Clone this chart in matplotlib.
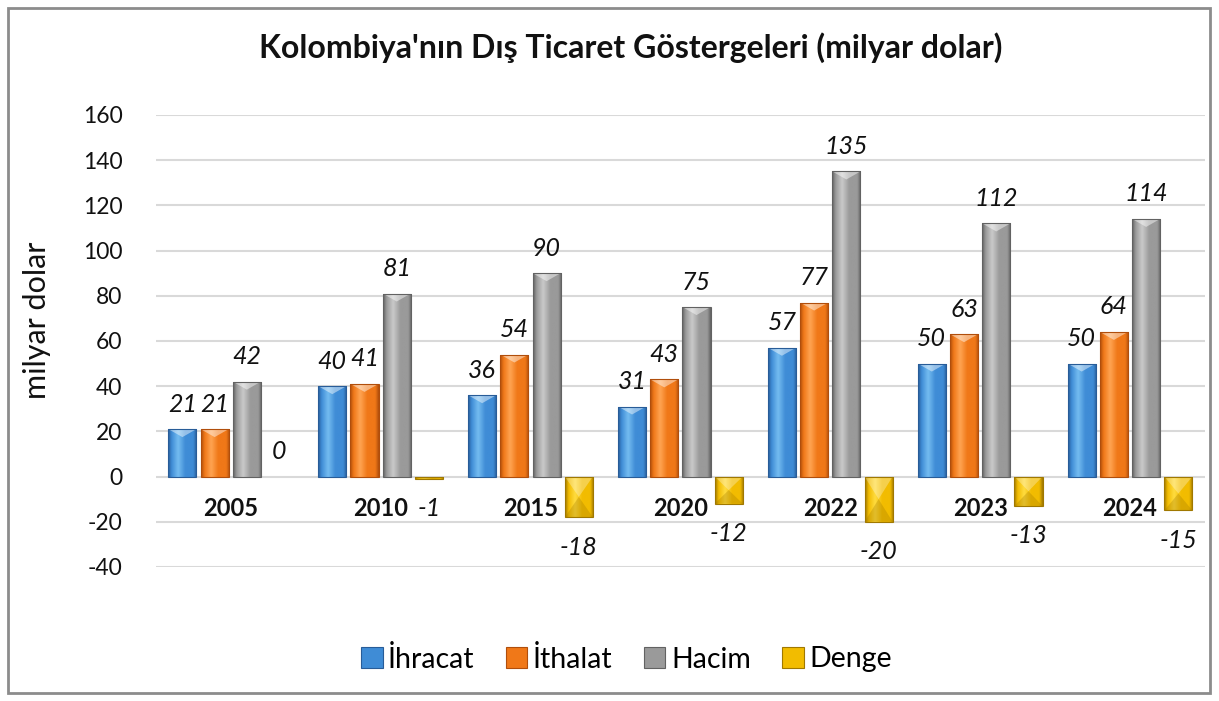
import numpy as np
import matplotlib
matplotlib.use('Agg')
import matplotlib.pyplot as plt
from matplotlib.patches import Polygon, Rectangle, Patch
from matplotlib.colors import LinearSegmentedColormap

# ---- data ----
years = ['2005', '2010', '2015', '2020', '2022', '2023', '2024']
ihracat = [21, 40, 36, 31, 57, 50, 50]
ithalat = [21, 41, 54, 43, 77, 63, 64]
hacim = [42, 81, 90, 75, 135, 112, 114]
denge = [0, -1, -18, -12, -20, -13, -15]
series_names = ['İhracat', 'İthalat', 'Hacim', 'Denge']
yticks = [-40, -20, 0, 20, 40, 60, 80, 100, 120, 140, 160]
title = "Kolombiya'nın Dış Ticaret Göstergeleri (milyar dolar)"
ylabel = 'milyar dolar'

# ---- style ----
plt.rcParams['font.family'] = ['Lato', 'DejaVu Sans']
palettes = [
    ('#285C98', '#3F8CD6', '#74BCF0'),   # blue: dark, base, light
    ('#B04E0C', '#F07818', '#FFA452'),   # orange
    ('#626262', '#9A9A9A', '#CACACA'),   # gray
    ('#A07800', '#F2BC00', '#FFDC40'),   # yellow
]

fig = plt.figure(figsize=(12.19, 7.01), dpi=100)
ax = fig.add_axes([0.1278, 0.1912, 0.8607, 0.6448])

px_per_unit = 0.6448 * 701 / 200.0

series = [ihracat, ithalat, hacim, denge]
x = np.arange(len(years))
step = 0.215
width = 0.187
offsets = [-1.5 * step, -0.5 * step, 0.5 * step, 1.5 * step]

def shade_bar(patch, pal):
    dark, base, light = pal
    x0 = patch.get_x(); w = patch.get_width()
    y0 = patch.get_y(); h = patch.get_height()
    ylo, yhi = min(y0, y0 + h), max(y0, y0 + h)
    if yhi - ylo <= 0:
        return
    cmap = LinearSegmentedColormap.from_list(
        'g', [(0, dark), (0.12, base), (0.35, light), (0.6, base), (0.88, base), (1, dark)])
    grad = np.linspace(0, 1, 64).reshape(1, -1)
    im = ax.imshow(grad, extent=[x0, x0 + w, ylo, yhi], aspect='auto', cmap=cmap,
                   zorder=3, interpolation='bicubic')
    im.set_clip_path(patch)
    d = min(8.0 / px_per_unit, (yhi - ylo) / 2)
    xc = x0 + w / 2
    if h > 0:
        ax.add_patch(Polygon([(x0, yhi), (x0 + w, yhi), (xc, yhi - d)], closed=True,
                             facecolor='white', alpha=0.45, edgecolor='none', zorder=4))
    else:
        dd = (yhi - ylo) / 2
        ax.add_patch(Polygon([(x0, yhi), (x0 + w, yhi), (xc, yhi - dd)], closed=True,
                             facecolor='white', alpha=0.3, edgecolor='none', zorder=4))
        ax.add_patch(Polygon([(x0, ylo), (x0 + w, ylo), (xc, ylo + dd)], closed=True,
                             facecolor=dark, alpha=0.3, edgecolor='none', zorder=4))

for si, (vals, pal) in enumerate(zip(series, palettes)):
    bars = ax.bar(x + offsets[si], vals, width=width, color=pal[1],
                  edgecolor=pal[0], linewidth=0.8, zorder=2)
    for b, v in zip(bars, vals):
        shade_bar(b, pal)
        b.set_zorder(5)
        b.set_facecolor('none')
        if v == 0:
            b.set_linewidth(0)
        xc = b.get_x() + b.get_width() / 2
        off = 25 if v >= 0 else -30
        ax.annotate(f'{v}', (xc, v), xytext=(0, off), textcoords='offset pixels',
                    ha='center', va='center', fontsize=18, style='italic',
                    color='#111111', zorder=6)

for i, yr in enumerate(years):
    ax.annotate(yr, (i, 0), xytext=(0, -32), textcoords='offset pixels',
                ha='center', va='center', fontsize=17, fontweight='bold',
                color='#111111', zorder=6)

ax.set_xlim(-0.5, len(years) - 0.5)
ax.set_ylim(-40, 160)
ax.set_yticks(yticks)
ax.set_yticklabels([str(t) for t in yticks], fontsize=16.5, color='#111111')
ax.set_xticks([])
ax.tick_params(axis='y', length=0, pad=24)
ax.grid(axis='y', color='#D9D9D9', linewidth=1.5, zorder=0)
ax.set_axisbelow(True)
for s in ax.spines.values():
    s.set_visible(False)

fig.text(37 / 1219, 1 - 320 / 701, ylabel, rotation=90, ha='center', va='center',
         fontsize=22, color='#111111')
fig.text(631 / 1219, 1 - 48 / 701, title, ha='center', va='center',
         fontsize=23, fontweight='bold', color='#111111')

handles = [Patch(facecolor=p[1], edgecolor=p[0], linewidth=0.8) for p in palettes]
fig.legend(handles, series_names, loc='center', bbox_to_anchor=(0.514, 1 - 659 / 701),
           ncol=4, frameon=False, fontsize=20.5, handlelength=0.75, handleheight=0.75,
           handletextpad=0.2, columnspacing=1.1)

fig.add_artist(Rectangle((8 / 1219, 8 / 701), 1202 / 1219, 685 / 701,
                         transform=fig.transFigure, fill=False,
                         edgecolor='#8C8C8C', linewidth=2))

fig.savefig('out.png', dpi=100, facecolor='white')
